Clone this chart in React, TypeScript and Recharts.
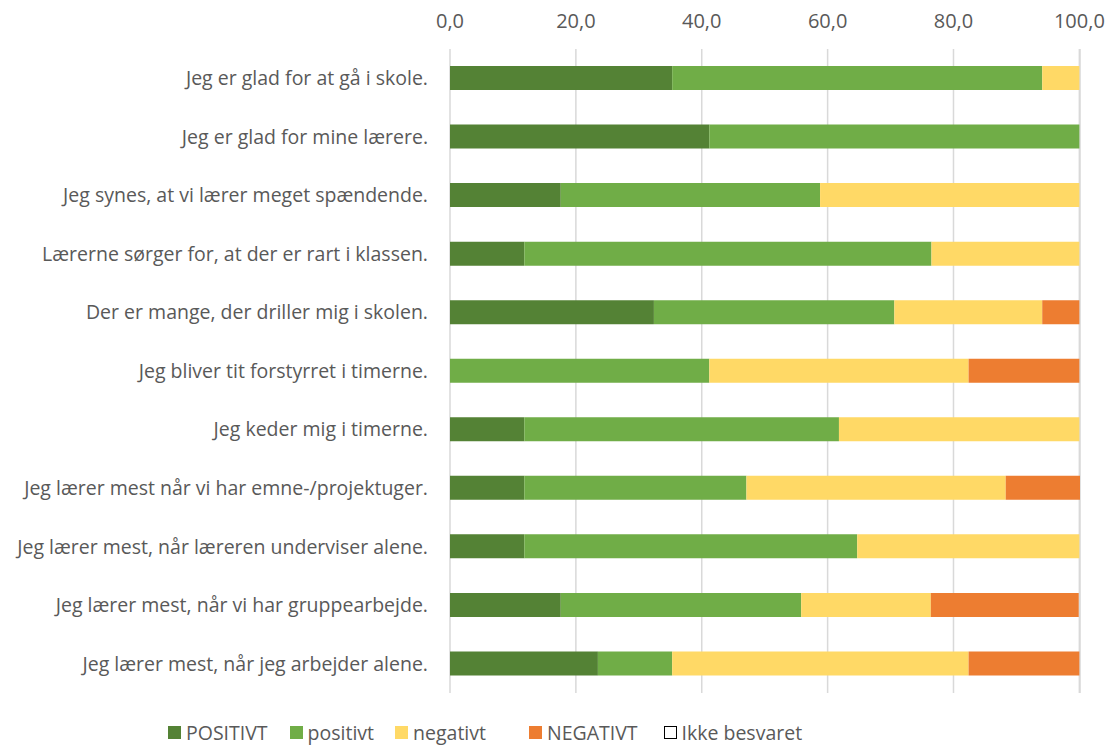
import React from "react";
import { BarChart, Bar, XAxis, YAxis, CartesianGrid, Legend } from "recharts";

const categories = [
  "Jeg er glad for at gå i skole.",
  "Jeg er glad for mine lærere.",
  "Jeg synes, at vi lærer meget spændende.",
  "Lærerne sørger for, at der er rart i klassen.",
  "Der er mange, der driller mig i skolen.",
  "Jeg bliver tit forstyrret i timerne.",
  "Jeg keder mig i timerne.",
  "Jeg lærer mest når vi har emne-/projektuger.",
  "Jeg lærer mest, når læreren underviser alene.",
  "Jeg lærer mest, når vi har gruppearbejde.",
  "Jeg lærer mest, når jeg arbejder alene.",
];

const positivtStor = [35.3, 41.2, 17.6, 11.8, 32.4, 0, 11.8, 11.8, 11.8, 17.6, 23.5];
const positivt = [58.8, 58.8, 41.2, 64.7, 38.2, 41.2, 50.0, 35.3, 52.9, 38.2, 11.8];
const negativt = [5.9, 0, 41.2, 23.5, 23.5, 41.2, 38.2, 41.2, 35.3, 20.6, 47.1];
const negativtStor = [0, 0, 0, 0, 5.9, 17.6, 0, 11.8, 0, 23.5, 17.6];
const ikkeBesvaret = [0, 0, 0, 0, 0, 0, 0, 0, 0, 0, 0];

const xTicks = [0, 20, 40, 60, 80, 100];

const series = [
  { key: "POSITIVT", color: "#548235", stroke: "none" },
  { key: "positivt", color: "#70AD47", stroke: "none" },
  { key: "negativt", color: "#FFD966", stroke: "none" },
  { key: "NEGATIVT", color: "#ED7D31", stroke: "none" },
  { key: "Ikke besvaret", color: "#FFFFFF", stroke: "#000000" },
];

const data = categories.map((name, i) => ({
  name,
  POSITIVT: positivtStor[i],
  positivt: positivt[i],
  negativt: negativt[i],
  NEGATIVT: negativtStor[i],
  "Ikke besvaret": ikkeBesvaret[i],
}));

const FONT = "'Open Sans', sans-serif";
const TEXT = "#595959";

// spacing after each legend item, tuned to the original
const legendGaps = [22, 21, 43, 26, 0];

const LegendContent = () => (
  <div
    style={{
      display: "flex",
      fontFamily: FONT,
      fontSize: 19.5,
      color: TEXT,
      paddingLeft: 168,
    }}
  >
    {series.map((s, i) => (
      <div key={s.key} style={{ display: "flex", alignItems: "center", marginRight: legendGaps[i] }}>
        <span
          style={{
            display: "inline-block",
            width: s.stroke === "none" ? 13 : 11,
            height: s.stroke === "none" ? 13 : 11,
            background: s.color,
            border: s.stroke === "none" ? "none" : `1.5px solid ${s.stroke}`,
            marginRight: 5,
          }}
        />
        <span>{s.key}</span>
      </div>
    ))}
  </div>
);

export default function App() {
  return (
    <div style={{ position: "absolute", left: 0, top: 0, background: "#fff" }}>
      <BarChart
        width={1119}
        height={746}
        data={data}
        layout="vertical"
        margin={{ top: 9, right: 39, bottom: 26, left: 0 }}
        barSize={24}
      >
        <CartesianGrid horizontal={false} stroke="#d9d9d9" strokeWidth={1.5} />
        <XAxis
          type="number"
          orientation="top"
          domain={[0, 100]}
          ticks={xTicks}
          interval={0}
          height={40}
          axisLine={false}
          tickLine={false}
          tickFormatter={(v: number) => v.toFixed(1).replace(".", ",")}
          tick={{ fill: TEXT, fontSize: 20, fontFamily: FONT }}
          tickMargin={15}
        />
        <YAxis
          type="category"
          dataKey="name"
          width={450}
          axisLine={false}
          tickLine={false}
          interval={0}
          tickMargin={16}
          tick={{ fill: TEXT, fontSize: 19.5, fontFamily: FONT }}
        />
        {series.map((s) => (
          <Bar
            key={s.key}
            dataKey={s.key}
            stackId="a"
            fill={s.color}
            isAnimationActive={false}
          />
        ))}
        <Legend verticalAlign="bottom" content={<LegendContent />} wrapperStyle={{ bottom: 0 }} />
      </BarChart>
    </div>
  );
}
